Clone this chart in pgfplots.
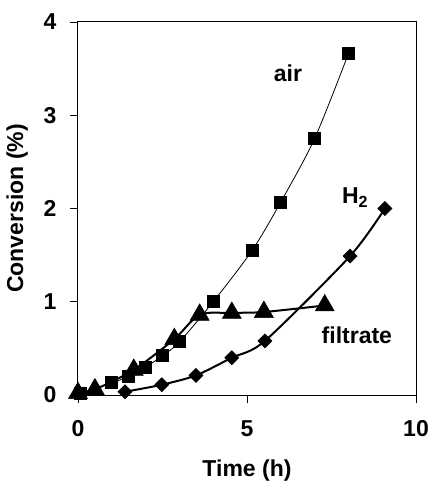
\documentclass[border=0pt]{standalone}
\usepackage{fontspec}
\setmainfont{Liberation Sans}
\usepackage{pgfplots}
\pgfplotsset{compat=1.18}
\newcommand\chartfont{\fontsize{23}{25}\selectfont\bfseries}
\begin{document}
\begin{tikzpicture}[x=1pt,y=1pt]
\begin{axis}[
  at={(0,0)}, anchor=south west,
  scale only axis, width=338pt, height=373pt,
  xmin=0, xmax=10, ymin=0, ymax=4,
  xtick={0,5,10}, ytick={0,1,2,3,4},
  tick align=outside, tick pos=left,
  major tick length=8pt,
  axis line style={line width=1pt},
  every tick/.style={black, line width=0.9pt},
  /pgf/number format/assume math mode=true,
  tick label style={font=\chartfont},
  label style={font=\chartfont},
  xticklabel style={yshift=-14pt},
  yticklabel style={xshift=-10pt},
  xlabel={Time (h)}, ylabel={Conversion (\%)},
  xlabel style={yshift=-16pt},
  ylabel style={yshift=9pt},
  clip=false,
]
% air
\addplot[black, line width=0.8pt, smooth, mark=square*, mark size=6pt,
  mark options={solid}] coordinates {
  (0.06,0.02) (1.0,0.13) (1.5,0.20) (2.0,0.30) (2.5,0.42) (3.0,0.57)
  (4.0,1.0) (5.15,1.55) (6.0,2.07) (7.0,2.75) (8.0,3.66)};
% filtrate
\addplot[black, line width=2pt, smooth, mark=triangle*, mark size=11pt,
  mark options={solid, line width=0.5pt}] coordinates {
  (0.0,0.02) (0.5,0.06) (1.65,0.27) (2.85,0.60) (3.6,0.86) (4.55,0.88)
  (5.5,0.89) (7.3,0.96)};
% H2
\addplot[black, line width=2pt, smooth, tension=0.45, mark=square*, mark size=5pt,
  mark options={solid, line width=0.5pt, rotate=45}] coordinates {
  (1.39,0.035) (2.48,0.11) (3.49,0.21) (4.55,0.40) (5.53,0.58)
  (8.05,1.49) (9.08,2.0)};
\node[font=\chartfont] at (axis cs:6.21,3.45) {air};
\node[font=\chartfont] at (axis cs:8.2,2.12) {H\textsubscript{2}};
\node[font=\chartfont] at (axis cs:8.25,0.64) {filtrate};
\end{axis}
\pgfresetboundingbox
\path (-78pt,-89pt) rectangle (353pt,395pt);
\end{tikzpicture}
\end{document}
